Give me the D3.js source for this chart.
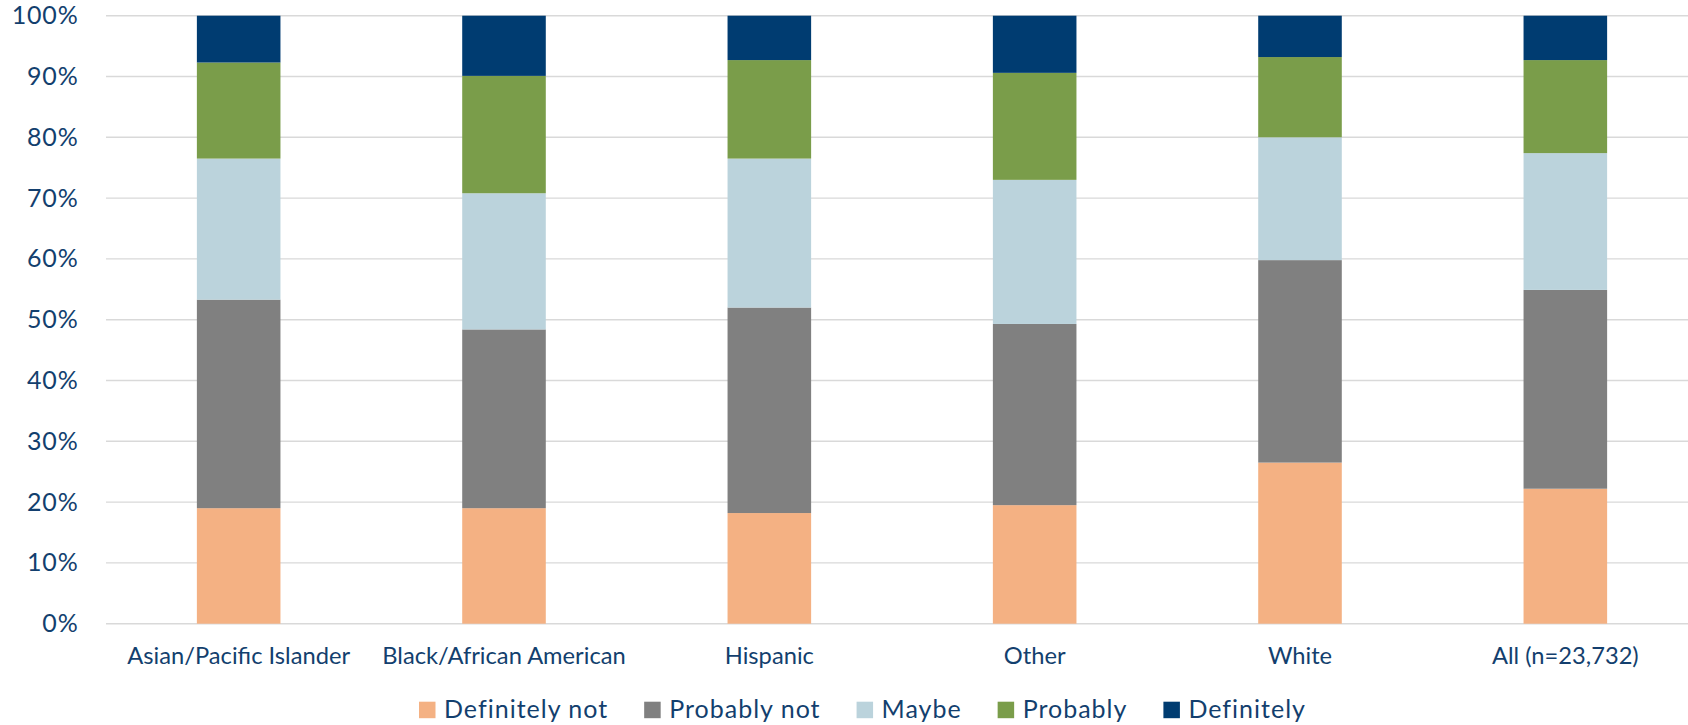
<!DOCTYPE html>
<html>
<head>
<meta charset="utf-8">
<script src="https://cdn.jsdelivr.net/npm/d3@7"></script>
<style>
  html, body { margin: 0; padding: 0; background: #fff; }
  svg { display: block; }
  text { font-family: Lato, "Open Sans", sans-serif; fill: #133F6E; }
</style>
</head>
<body>
<svg id="chart" width="1688" height="725"></svg>
<script>
const categories = ["Asian/Pacific Islander", "Black/African American", "Hispanic", "Other", "White", "All (n=23,732)"];
const seriesNames = ["Definitely not", "Probably not", "Maybe", "Probably", "Definitely"];
const definitelyNot = [19.0, 19.0, 18.2, 19.5, 26.5, 22.2];
const probablyNot   = [34.3, 29.4, 33.8, 29.8, 33.3, 32.7];
const maybe         = [23.2, 22.4, 24.5, 23.7, 20.2, 22.5];
const probably      = [15.8, 19.3, 16.2, 17.6, 13.2, 15.3];
const definitely    = [7.7, 9.9, 7.3, 9.4, 6.8, 7.3];
const yTicks = [0, 10, 20, 30, 40, 50, 60, 70, 80, 90, 100];
const colors = ["#F4B183", "#808080", "#BBD3DC", "#7A9D4A", "#003C71"];

const seriesValues = [definitelyNot, probablyNot, maybe, probably, definitely];
const table = categories.map((c, i) => {
  const row = { category: c };
  seriesNames.forEach((s, j) => { row[s] = seriesValues[j][i]; });
  return row;
});

const W = 1688, H = 725;
const svg = d3.select("#chart");
const plotLeft = 106, plotRight = 1698, plotTop = 15.7, plotBottom = 623.7;

const x = d3.scaleBand().domain(categories).range([plotLeft, plotRight])
  .paddingInner(0.685).paddingOuter(0.3425);
const y = d3.scaleLinear().domain([0, 100]).range([plotBottom, plotTop]);
const color = d3.scaleOrdinal().domain(seriesNames).range(colors);

// gridlines
svg.append("g").selectAll("line").data(yTicks).join("line")
  .attr("x1", plotLeft).attr("x2", W)
  .attr("y1", d => y(d)).attr("y2", d => y(d))
  .attr("stroke", "#D9D9D9").attr("stroke-width", 1.4);

// y axis labels
const yAxis = d3.axisLeft(y).tickValues(yTicks).tickFormat(d => d + "%").tickSize(0).tickPadding(0);
const gy = svg.append("g").attr("transform", "translate(78.5,0)").call(yAxis);
gy.select(".domain").remove();
gy.selectAll("text").attr("font-size", 25).attr("fill", "#133F6E")
  .attr("letter-spacing", 0.8)
  .style("font-family", "Lato, 'Open Sans', sans-serif");

// bars
const stacked = d3.stack().keys(seriesNames)(table);
svg.append("g").selectAll("g").data(stacked).join("g")
  .attr("fill", d => color(d.key))
  .selectAll("rect").data(d => d).join("rect")
  .attr("x", d => x(d.data.category))
  .attr("width", x.bandwidth())
  .attr("y", d => y(d[1]))
  .attr("height", d => y(d[0]) - y(d[1]));

// x axis labels
const xAxis = d3.axisBottom(x).tickSize(0).tickPadding(0);
const gx = svg.append("g").attr("transform", "translate(0,647)").call(xAxis);
gx.select(".domain").remove();
gx.selectAll("text").attr("font-size", 23.7).attr("fill", "#133F6E").attr("dy", 0)
  .attr("y", 17)
  .style("font-family", "Lato, 'Open Sans', sans-serif");

// legend
const legend = svg.append("g");
let lx = 419;
seriesNames.forEach((s, i) => {
  const g = legend.append("g");
  g.append("rect").attr("x", lx).attr("y", 701.7).attr("width", 16.5).attr("height", 16.5)
    .attr("fill", color(s));
  const t = g.append("text").attr("x", lx + 25).attr("y", 718.3)
    .attr("font-size", 25).attr("letter-spacing", 1.0).text(s);
  const w = t.node().getComputedTextLength();
  lx = lx + 25 + w + 36;
});
</script>
</body>
</html>
